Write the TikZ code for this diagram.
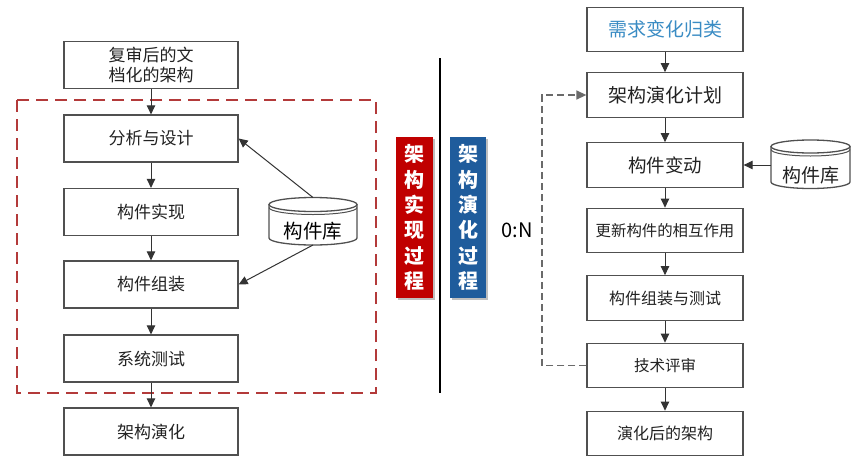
\documentclass[tikz,border=0pt]{standalone}
\usepackage{fontspec}
\setmainfont{Noto Sans CJK SC}
\usetikzlibrary{arrows.meta}
\definecolor{boxline}{HTML}{505050}
\definecolor{textc}{HTML}{222222}
\definecolor{arrc}{HTML}{333333}
\definecolor{redlab}{HTML}{C00000}
\definecolor{bluelab}{HTML}{1F5C9C}
\definecolor{reddash}{HTML}{B33A3A}
\definecolor{titleblue}{HTML}{3A8CC4}
\definecolor{fbgray}{HTML}{6A6A6A}
\tikzset{
  lbox/.style={draw=boxline, line width=1.3pt, minimum width=174pt, minimum height=47pt,
    text=textc, font=\fontsize{17}{20}\selectfont, align=center, inner sep=0pt, fill=white},
  rbox/.style={draw=boxline, line width=1.3pt, minimum width=156pt, minimum height=44.5pt,
    text=textc, align=center, inner sep=0pt, fill=white},
  arr/.style={-{Triangle[length=9pt,width=8.5pt]}, draw=arrc, line width=1pt},
  cyl/.style={draw=boxline, line width=1.3pt, fill=white},
  cylrim/.style={draw=boxline, line width=1pt},
  labbox/.style={minimum width=37pt, minimum height=161pt, inner sep=0pt, text=white,
    align=center, font=\fontsize{20}{25.4}\selectfont\bfseries},
  redframe/.style={draw=reddash, line width=2.2pt, dash pattern=on 12pt off 7pt},
  fbline/.style={draw=fbgray, line width=1.4pt, dash pattern=on 7pt off 4pt,
    -{Triangle[length=10pt,width=9pt]}},
}
\begin{document}
\begin{tikzpicture}[x=1pt,y=-1pt]
\useasboundingbox (0,0) rectangle (865,469);
\fill[white] (0,0) rectangle (865,469);

% ---------- left part ----------
\draw[redframe] (17,100) rectangle (376,393);

\node[lbox] (l1) at (151,65) {复审后的文\\档化的架构};
\node[lbox] (l2) at (151,138.5) {分析与设计};
\node[lbox] (l3) at (151,212) {构件实现};
\node[lbox] (l4) at (151,284.5) {构件组装};
\node[lbox] (l5) at (151,358.5) {系统测试};
\node[lbox] (l6) at (151,431.5) {架构演化};

\draw[arr] (l1) -- (l2);
\draw[arr] (l2) -- (l3);
\draw[arr] (l3) -- (l4);
\draw[arr] (l4) -- (l5);
\draw[arr] (l5) -- (l6);

% left cylinder
\draw[cyl] (269,204.5) -- (269,238) arc[start angle=180,end angle=360,x radius=44pt,y radius=7pt] -- (357,204.5);
\draw[cyl] (313,204.5) ellipse [x radius=44pt, y radius=7pt];
\draw[cylrim] (269,207.5) arc[start angle=180,end angle=360,x radius=44pt,y radius=7pt];
\node[text=black, font=\fontsize{19.5}{20}\selectfont, inner sep=0pt] (cl) at (313,231) {构件库};
\coordinate (clt) at (313,197.5);
\coordinate (clb) at (313,245);
\draw[arr] (clt) -- (l2.east);
\draw[arr] (clb) -- (l4.east);

% labels
\fill[black!25] (398,139) rectangle (435,300);
\node[labbox, fill=redlab] (lab1) at (414.5,217.5) {架\\构\\实\\现\\过\\程};
\fill[black!25] (452,139) rectangle (488,300);
\node[labbox, fill=bluelab, minimum width=36pt] (lab2) at (468,217.5) {架\\构\\演\\化\\过\\程};

\coordinate (vt) at (440,58);
\coordinate (vb) at (440,393);
\draw[black, line width=1.5pt] (vt) -- (vb);

\node[font=\fontsize{20}{22}\selectfont, text=black, inner sep=0pt] (zn) at (517,230) {0:N};

% ---------- right part ----------
\node[rbox, font=\fontsize{19}{20}\selectfont, text=titleblue] (r1) at (665,29.5) {需求变化归类};
\node[rbox, font=\fontsize{19}{20}\selectfont] (r2) at (665,95) {架构演化计划};
\node[rbox, font=\fontsize{18.5}{20}\selectfont] (r3) at (665,165) {构件变动};
\node[rbox, font=\fontsize{15.4}{18}\selectfont] (r4) at (665,230.5) {更新构件的相互作用};
\node[rbox, font=\fontsize{16}{18}\selectfont] (r5) at (665,298) {构件组装与测试};
\node[rbox, font=\fontsize{15.5}{18}\selectfont] (r6) at (665,365.5) {技术评审};
\node[rbox, font=\fontsize{16}{18}\selectfont] (r7) at (665,433.5) {演化后的架构};

\draw[arr] (r1) -- (r2);
\draw[arr] (r2) -- (r3);
\draw[arr] (r3) -- (r4);
\draw[arr] (r4) -- (r5);
\draw[arr] (r5) -- (r6);
\draw[arr] (r6) -- (r7);

% right cylinder
\draw[cyl] (771,146.5) -- (771,182) arc[start angle=180,end angle=360,x radius=39.5pt,y radius=6.5pt] -- (850,146.5);
\draw[cyl] (810.5,146.5) ellipse [x radius=39.5pt, y radius=6.5pt];
\draw[cylrim] (771,149.5) arc[start angle=180,end angle=360,x radius=39.5pt,y radius=6.5pt];
\node[text=textc, font=\fontsize{19}{20}\selectfont, inner sep=0pt] (cr) at (810.5,175.5) {构件库};
\coordinate (crl) at (771,165);
\draw[arr] (crl) -- (r3.east);

% feedback loop
\coordinate (fb) at (542,230);
\draw[fbline] (r6.west) -| (fb) |- (r2.west);
\end{tikzpicture}
\end{document}
